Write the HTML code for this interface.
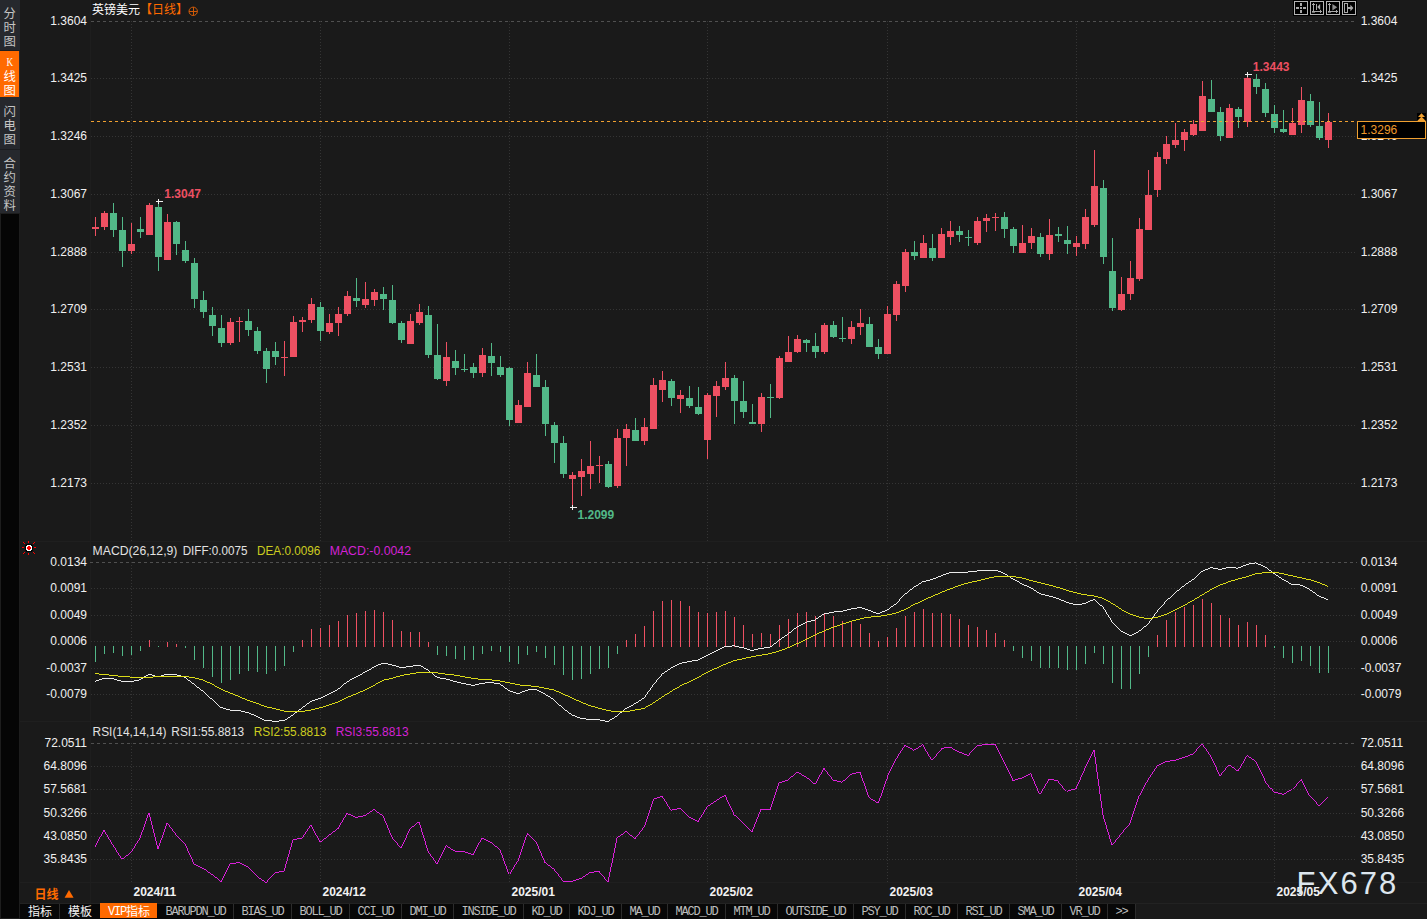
<!DOCTYPE html>
<html><head><meta charset="utf-8"><title>GBPUSD Daily</title>
<style>html,body{margin:0;padding:0;background:#1a1a1a;overflow:hidden}svg{display:block}</style>
</head><body>
<svg width="1427" height="919" viewBox="0 0 1427 919" font-family="Liberation Sans, sans-serif" font-size="12">
<rect x="0" y="0" width="1427" height="919" fill="#1a1a1a"/>
<g shape-rendering="crispEdges">
<rect x="0" y="0" width="20" height="213" fill="#26282d"/>
<rect x="0" y="213" width="20" height="706" fill="#1d1d1d"/>
<rect x="0" y="51" width="19" height="46" fill="#ff6a00"/>
<rect x="1" y="214" width="18" height="704" fill="#050505"/>
<rect x="0" y="50" width="20" height="1" fill="#1c1d20"/>
<rect x="0" y="149" width="20" height="1" fill="#1c1d20"/>
<rect x="20" y="903" width="1407" height="16" fill="#1a1a1a"/>
<rect x="20" y="903" width="1116" height="16" fill="#080808"/>
<rect x="20" y="903" width="1407" height="1" fill="#222"/>
<rect x="100" y="903" width="57" height="15" fill="#ff6a00"/>
<rect x="20" y="541" width="1407" height="1" fill="#1f1f1f"/>
<rect x="20" y="721" width="1407" height="1" fill="#1f1f1f"/>
<rect x="20" y="882" width="1407" height="1" fill="#1f1f1f"/>
<rect x="90" y="0" width="1" height="903" fill="#1e1e1e"/>
<line x1="91" y1="21.5" x2="1357" y2="21.5" stroke="#505050" stroke-dasharray="3 3"/>
<line x1="90" y1="562.5" x2="1357" y2="562.5" stroke="#505050" stroke-dasharray="3 3"/>
<line x1="91" y1="743.5" x2="1357" y2="743.5" stroke="#505050" stroke-dasharray="3 3"/>
<line x1="91" y1="78.5" x2="1357" y2="78.5" stroke="#353535" stroke-dasharray="1 2"/>
<line x1="91" y1="136.5" x2="1357" y2="136.5" stroke="#353535" stroke-dasharray="1 2"/>
<line x1="91" y1="194.5" x2="1357" y2="194.5" stroke="#353535" stroke-dasharray="1 2"/>
<line x1="91" y1="252.5" x2="1357" y2="252.5" stroke="#353535" stroke-dasharray="1 2"/>
<line x1="91" y1="309.5" x2="1357" y2="309.5" stroke="#353535" stroke-dasharray="1 2"/>
<line x1="91" y1="367.5" x2="1357" y2="367.5" stroke="#353535" stroke-dasharray="1 2"/>
<line x1="91" y1="425.5" x2="1357" y2="425.5" stroke="#353535" stroke-dasharray="1 2"/>
<line x1="91" y1="483.5" x2="1357" y2="483.5" stroke="#353535" stroke-dasharray="1 2"/>
<line x1="91" y1="588.5" x2="1357" y2="588.5" stroke="#353535" stroke-dasharray="1 2"/>
<line x1="91" y1="615.5" x2="1357" y2="615.5" stroke="#353535" stroke-dasharray="1 2"/>
<line x1="91" y1="641.5" x2="1357" y2="641.5" stroke="#353535" stroke-dasharray="1 2"/>
<line x1="91" y1="668.5" x2="1357" y2="668.5" stroke="#353535" stroke-dasharray="1 2"/>
<line x1="91" y1="694.5" x2="1357" y2="694.5" stroke="#353535" stroke-dasharray="1 2"/>
<line x1="91" y1="766.5" x2="1357" y2="766.5" stroke="#353535" stroke-dasharray="1 2"/>
<line x1="91" y1="789.5" x2="1357" y2="789.5" stroke="#353535" stroke-dasharray="1 2"/>
<line x1="91" y1="813.5" x2="1357" y2="813.5" stroke="#353535" stroke-dasharray="1 2"/>
<line x1="91" y1="836.5" x2="1357" y2="836.5" stroke="#353535" stroke-dasharray="1 2"/>
<line x1="91" y1="859.5" x2="1357" y2="859.5" stroke="#353535" stroke-dasharray="1 2"/>
<line x1="131.5" y1="21" x2="131.5" y2="541" stroke="#353535" stroke-dasharray="1 2"/>
<line x1="131.5" y1="562" x2="131.5" y2="720" stroke="#353535" stroke-dasharray="1 2"/>
<line x1="131.5" y1="743" x2="131.5" y2="882" stroke="#353535" stroke-dasharray="1 2"/>
<line x1="320.5" y1="21" x2="320.5" y2="541" stroke="#353535" stroke-dasharray="1 2"/>
<line x1="320.5" y1="562" x2="320.5" y2="720" stroke="#353535" stroke-dasharray="1 2"/>
<line x1="320.5" y1="743" x2="320.5" y2="882" stroke="#353535" stroke-dasharray="1 2"/>
<line x1="509.5" y1="21" x2="509.5" y2="541" stroke="#353535" stroke-dasharray="1 2"/>
<line x1="509.5" y1="562" x2="509.5" y2="720" stroke="#353535" stroke-dasharray="1 2"/>
<line x1="509.5" y1="743" x2="509.5" y2="882" stroke="#353535" stroke-dasharray="1 2"/>
<line x1="707.5" y1="21" x2="707.5" y2="541" stroke="#353535" stroke-dasharray="1 2"/>
<line x1="707.5" y1="562" x2="707.5" y2="720" stroke="#353535" stroke-dasharray="1 2"/>
<line x1="707.5" y1="743" x2="707.5" y2="882" stroke="#353535" stroke-dasharray="1 2"/>
<line x1="887.5" y1="21" x2="887.5" y2="541" stroke="#353535" stroke-dasharray="1 2"/>
<line x1="887.5" y1="562" x2="887.5" y2="720" stroke="#353535" stroke-dasharray="1 2"/>
<line x1="887.5" y1="743" x2="887.5" y2="882" stroke="#353535" stroke-dasharray="1 2"/>
<line x1="1076.5" y1="21" x2="1076.5" y2="541" stroke="#353535" stroke-dasharray="1 2"/>
<line x1="1076.5" y1="562" x2="1076.5" y2="720" stroke="#353535" stroke-dasharray="1 2"/>
<line x1="1076.5" y1="743" x2="1076.5" y2="882" stroke="#353535" stroke-dasharray="1 2"/>
<line x1="1274.5" y1="21" x2="1274.5" y2="541" stroke="#353535" stroke-dasharray="1 2"/>
<line x1="1274.5" y1="562" x2="1274.5" y2="720" stroke="#353535" stroke-dasharray="1 2"/>
<line x1="1274.5" y1="743" x2="1274.5" y2="882" stroke="#353535" stroke-dasharray="1 2"/>
<rect x="95" y="217" width="1" height="19" fill="#ee5062"/>
<rect x="92" y="227" width="7" height="2" fill="#ee5062"/>
<rect x="104" y="211" width="1" height="19" fill="#ee5062"/>
<rect x="101" y="213" width="7" height="14" fill="#ee5062"/>
<rect x="113" y="203" width="1" height="34" fill="#52b888"/>
<rect x="110" y="213" width="7" height="17" fill="#52b888"/>
<rect x="122" y="217" width="1" height="50" fill="#52b888"/>
<rect x="119" y="230" width="7" height="21" fill="#52b888"/>
<rect x="131" y="223" width="1" height="31" fill="#ee5062"/>
<rect x="128" y="244" width="7" height="7" fill="#ee5062"/>
<rect x="140" y="217" width="1" height="21" fill="#52b888"/>
<rect x="137" y="229" width="7" height="3" fill="#52b888"/>
<rect x="149" y="203" width="1" height="32" fill="#ee5062"/>
<rect x="146" y="205" width="7" height="30" fill="#ee5062"/>
<rect x="158" y="202" width="1" height="69" fill="#52b888"/>
<rect x="155" y="207" width="7" height="50" fill="#52b888"/>
<rect x="167" y="214" width="1" height="46" fill="#ee5062"/>
<rect x="164" y="222" width="7" height="38" fill="#ee5062"/>
<rect x="176" y="221" width="1" height="34" fill="#52b888"/>
<rect x="173" y="222" width="7" height="22" fill="#52b888"/>
<rect x="185" y="241" width="1" height="22" fill="#52b888"/>
<rect x="182" y="250" width="7" height="11" fill="#52b888"/>
<rect x="194" y="258" width="1" height="50" fill="#52b888"/>
<rect x="191" y="263" width="7" height="36" fill="#52b888"/>
<rect x="203" y="291" width="1" height="27" fill="#52b888"/>
<rect x="200" y="300" width="7" height="12" fill="#52b888"/>
<rect x="212" y="307" width="1" height="29" fill="#52b888"/>
<rect x="209" y="315" width="7" height="11" fill="#52b888"/>
<rect x="221" y="315" width="1" height="32" fill="#52b888"/>
<rect x="218" y="328" width="7" height="15" fill="#52b888"/>
<rect x="230" y="318" width="1" height="27" fill="#ee5062"/>
<rect x="227" y="322" width="7" height="21" fill="#ee5062"/>
<rect x="239" y="317" width="1" height="25" fill="#ee5062"/>
<rect x="236" y="321" width="7" height="1" fill="#ee5062"/>
<rect x="248" y="309" width="1" height="27" fill="#52b888"/>
<rect x="245" y="321" width="7" height="9" fill="#52b888"/>
<rect x="257" y="327" width="1" height="27" fill="#52b888"/>
<rect x="254" y="331" width="7" height="20" fill="#52b888"/>
<rect x="266" y="348" width="1" height="35" fill="#52b888"/>
<rect x="263" y="351" width="7" height="18" fill="#52b888"/>
<rect x="275" y="342" width="1" height="23" fill="#52b888"/>
<rect x="272" y="351" width="7" height="6" fill="#52b888"/>
<rect x="284" y="341" width="1" height="35" fill="#ee5062"/>
<rect x="281" y="357" width="7" height="1" fill="#ee5062"/>
<rect x="293" y="316" width="1" height="41" fill="#ee5062"/>
<rect x="290" y="322" width="7" height="35" fill="#ee5062"/>
<rect x="302" y="317" width="1" height="15" fill="#ee5062"/>
<rect x="299" y="320" width="7" height="2" fill="#ee5062"/>
<rect x="311" y="298" width="1" height="25" fill="#ee5062"/>
<rect x="308" y="304" width="7" height="16" fill="#ee5062"/>
<rect x="320" y="302" width="1" height="39" fill="#52b888"/>
<rect x="317" y="307" width="7" height="24" fill="#52b888"/>
<rect x="329" y="314" width="1" height="20" fill="#ee5062"/>
<rect x="326" y="323" width="7" height="9" fill="#ee5062"/>
<rect x="338" y="307" width="1" height="29" fill="#ee5062"/>
<rect x="335" y="314" width="7" height="9" fill="#ee5062"/>
<rect x="347" y="291" width="1" height="25" fill="#ee5062"/>
<rect x="344" y="296" width="7" height="18" fill="#ee5062"/>
<rect x="356" y="278" width="1" height="29" fill="#52b888"/>
<rect x="353" y="298" width="7" height="3" fill="#52b888"/>
<rect x="365" y="282" width="1" height="26" fill="#ee5062"/>
<rect x="362" y="299" width="7" height="6" fill="#ee5062"/>
<rect x="374" y="289" width="1" height="17" fill="#ee5062"/>
<rect x="371" y="292" width="7" height="8" fill="#ee5062"/>
<rect x="383" y="287" width="1" height="23" fill="#52b888"/>
<rect x="380" y="294" width="7" height="5" fill="#52b888"/>
<rect x="392" y="285" width="1" height="39" fill="#52b888"/>
<rect x="389" y="300" width="7" height="23" fill="#52b888"/>
<rect x="401" y="321" width="1" height="22" fill="#52b888"/>
<rect x="398" y="323" width="7" height="17" fill="#52b888"/>
<rect x="410" y="314" width="1" height="30" fill="#ee5062"/>
<rect x="407" y="321" width="7" height="23" fill="#ee5062"/>
<rect x="419" y="304" width="1" height="21" fill="#ee5062"/>
<rect x="416" y="312" width="7" height="11" fill="#ee5062"/>
<rect x="428" y="306" width="1" height="52" fill="#52b888"/>
<rect x="425" y="315" width="7" height="40" fill="#52b888"/>
<rect x="437" y="324" width="1" height="56" fill="#52b888"/>
<rect x="434" y="355" width="7" height="24" fill="#52b888"/>
<rect x="446" y="342" width="1" height="44" fill="#ee5062"/>
<rect x="443" y="357" width="7" height="24" fill="#ee5062"/>
<rect x="455" y="350" width="1" height="25" fill="#52b888"/>
<rect x="452" y="361" width="7" height="7" fill="#52b888"/>
<rect x="464" y="354" width="1" height="18" fill="#52b888"/>
<rect x="461" y="369" width="7" height="1" fill="#52b888"/>
<rect x="473" y="363" width="1" height="15" fill="#52b888"/>
<rect x="470" y="367" width="7" height="6" fill="#52b888"/>
<rect x="482" y="348" width="1" height="29" fill="#ee5062"/>
<rect x="479" y="355" width="7" height="18" fill="#ee5062"/>
<rect x="491" y="343" width="1" height="33" fill="#52b888"/>
<rect x="488" y="356" width="7" height="7" fill="#52b888"/>
<rect x="500" y="356" width="1" height="21" fill="#52b888"/>
<rect x="497" y="367" width="7" height="8" fill="#52b888"/>
<rect x="509" y="367" width="1" height="59" fill="#52b888"/>
<rect x="506" y="368" width="7" height="52" fill="#52b888"/>
<rect x="518" y="400" width="1" height="23" fill="#ee5062"/>
<rect x="515" y="405" width="7" height="18" fill="#ee5062"/>
<rect x="527" y="362" width="1" height="45" fill="#ee5062"/>
<rect x="524" y="373" width="7" height="34" fill="#ee5062"/>
<rect x="536" y="354" width="1" height="33" fill="#52b888"/>
<rect x="533" y="375" width="7" height="12" fill="#52b888"/>
<rect x="545" y="380" width="1" height="56" fill="#52b888"/>
<rect x="542" y="387" width="7" height="37" fill="#52b888"/>
<rect x="554" y="422" width="1" height="41" fill="#52b888"/>
<rect x="551" y="425" width="7" height="18" fill="#52b888"/>
<rect x="563" y="436" width="1" height="42" fill="#52b888"/>
<rect x="560" y="443" width="7" height="31" fill="#52b888"/>
<rect x="572" y="472" width="1" height="35" fill="#ee5062"/>
<rect x="569" y="475" width="7" height="4" fill="#ee5062"/>
<rect x="581" y="459" width="1" height="37" fill="#ee5062"/>
<rect x="578" y="471" width="7" height="6" fill="#ee5062"/>
<rect x="590" y="441" width="1" height="48" fill="#ee5062"/>
<rect x="587" y="466" width="7" height="8" fill="#ee5062"/>
<rect x="599" y="456" width="1" height="27" fill="#ee5062"/>
<rect x="596" y="465" width="7" height="1" fill="#ee5062"/>
<rect x="608" y="461" width="1" height="27" fill="#52b888"/>
<rect x="605" y="464" width="7" height="23" fill="#52b888"/>
<rect x="617" y="429" width="1" height="59" fill="#ee5062"/>
<rect x="614" y="438" width="7" height="48" fill="#ee5062"/>
<rect x="626" y="424" width="1" height="42" fill="#ee5062"/>
<rect x="623" y="429" width="7" height="9" fill="#ee5062"/>
<rect x="635" y="418" width="1" height="23" fill="#52b888"/>
<rect x="632" y="430" width="7" height="11" fill="#52b888"/>
<rect x="644" y="418" width="1" height="27" fill="#ee5062"/>
<rect x="641" y="427" width="7" height="14" fill="#ee5062"/>
<rect x="653" y="378" width="1" height="51" fill="#ee5062"/>
<rect x="650" y="385" width="7" height="44" fill="#ee5062"/>
<rect x="662" y="371" width="1" height="31" fill="#ee5062"/>
<rect x="659" y="380" width="7" height="10" fill="#ee5062"/>
<rect x="671" y="379" width="1" height="27" fill="#52b888"/>
<rect x="668" y="381" width="7" height="17" fill="#52b888"/>
<rect x="680" y="390" width="1" height="23" fill="#ee5062"/>
<rect x="677" y="395" width="7" height="4" fill="#ee5062"/>
<rect x="689" y="386" width="1" height="22" fill="#52b888"/>
<rect x="686" y="398" width="7" height="8" fill="#52b888"/>
<rect x="698" y="387" width="1" height="28" fill="#52b888"/>
<rect x="695" y="407" width="7" height="7" fill="#52b888"/>
<rect x="707" y="393" width="1" height="66" fill="#ee5062"/>
<rect x="704" y="395" width="7" height="45" fill="#ee5062"/>
<rect x="716" y="381" width="1" height="36" fill="#ee5062"/>
<rect x="713" y="386" width="7" height="10" fill="#ee5062"/>
<rect x="725" y="362" width="1" height="28" fill="#ee5062"/>
<rect x="722" y="378" width="7" height="9" fill="#ee5062"/>
<rect x="734" y="375" width="1" height="49" fill="#52b888"/>
<rect x="731" y="378" width="7" height="23" fill="#52b888"/>
<rect x="743" y="381" width="1" height="37" fill="#52b888"/>
<rect x="740" y="401" width="7" height="11" fill="#52b888"/>
<rect x="752" y="404" width="1" height="20" fill="#52b888"/>
<rect x="749" y="422" width="7" height="2" fill="#52b888"/>
<rect x="761" y="393" width="1" height="39" fill="#ee5062"/>
<rect x="758" y="397" width="7" height="27" fill="#ee5062"/>
<rect x="770" y="384" width="1" height="34" fill="#52b888"/>
<rect x="767" y="397" width="7" height="1" fill="#52b888"/>
<rect x="779" y="356" width="1" height="43" fill="#ee5062"/>
<rect x="776" y="358" width="7" height="40" fill="#ee5062"/>
<rect x="788" y="336" width="1" height="26" fill="#ee5062"/>
<rect x="785" y="352" width="7" height="10" fill="#ee5062"/>
<rect x="797" y="335" width="1" height="18" fill="#ee5062"/>
<rect x="794" y="339" width="7" height="13" fill="#ee5062"/>
<rect x="806" y="339" width="1" height="13" fill="#52b888"/>
<rect x="803" y="340" width="7" height="3" fill="#52b888"/>
<rect x="815" y="333" width="1" height="25" fill="#52b888"/>
<rect x="812" y="346" width="7" height="6" fill="#52b888"/>
<rect x="824" y="323" width="1" height="31" fill="#ee5062"/>
<rect x="821" y="325" width="7" height="27" fill="#ee5062"/>
<rect x="833" y="321" width="1" height="17" fill="#52b888"/>
<rect x="830" y="325" width="7" height="12" fill="#52b888"/>
<rect x="842" y="317" width="1" height="25" fill="#52b888"/>
<rect x="839" y="338" width="7" height="1" fill="#52b888"/>
<rect x="851" y="321" width="1" height="23" fill="#ee5062"/>
<rect x="848" y="327" width="7" height="12" fill="#ee5062"/>
<rect x="860" y="309" width="1" height="26" fill="#ee5062"/>
<rect x="857" y="323" width="7" height="4" fill="#ee5062"/>
<rect x="869" y="317" width="1" height="30" fill="#52b888"/>
<rect x="866" y="324" width="7" height="23" fill="#52b888"/>
<rect x="878" y="339" width="1" height="20" fill="#52b888"/>
<rect x="875" y="347" width="7" height="7" fill="#52b888"/>
<rect x="887" y="306" width="1" height="48" fill="#ee5062"/>
<rect x="884" y="314" width="7" height="40" fill="#ee5062"/>
<rect x="896" y="281" width="1" height="40" fill="#ee5062"/>
<rect x="893" y="284" width="7" height="31" fill="#ee5062"/>
<rect x="905" y="249" width="1" height="43" fill="#ee5062"/>
<rect x="902" y="252" width="7" height="34" fill="#ee5062"/>
<rect x="914" y="241" width="1" height="19" fill="#52b888"/>
<rect x="911" y="252" width="7" height="4" fill="#52b888"/>
<rect x="923" y="235" width="1" height="23" fill="#ee5062"/>
<rect x="920" y="243" width="7" height="15" fill="#ee5062"/>
<rect x="932" y="234" width="1" height="27" fill="#52b888"/>
<rect x="929" y="248" width="7" height="10" fill="#52b888"/>
<rect x="941" y="228" width="1" height="30" fill="#ee5062"/>
<rect x="938" y="234" width="7" height="24" fill="#ee5062"/>
<rect x="950" y="221" width="1" height="24" fill="#ee5062"/>
<rect x="947" y="231" width="7" height="6" fill="#ee5062"/>
<rect x="959" y="226" width="1" height="16" fill="#52b888"/>
<rect x="956" y="231" width="7" height="4" fill="#52b888"/>
<rect x="968" y="230" width="1" height="16" fill="#52b888"/>
<rect x="965" y="237" width="7" height="1" fill="#52b888"/>
<rect x="977" y="217" width="1" height="28" fill="#ee5062"/>
<rect x="974" y="221" width="7" height="22" fill="#ee5062"/>
<rect x="986" y="214" width="1" height="18" fill="#ee5062"/>
<rect x="983" y="218" width="7" height="3" fill="#ee5062"/>
<rect x="995" y="213" width="1" height="18" fill="#ee5062"/>
<rect x="992" y="217" width="7" height="1" fill="#ee5062"/>
<rect x="1004" y="212" width="1" height="26" fill="#52b888"/>
<rect x="1001" y="217" width="7" height="12" fill="#52b888"/>
<rect x="1013" y="227" width="1" height="26" fill="#52b888"/>
<rect x="1010" y="229" width="7" height="17" fill="#52b888"/>
<rect x="1022" y="225" width="1" height="28" fill="#ee5062"/>
<rect x="1019" y="243" width="7" height="10" fill="#ee5062"/>
<rect x="1031" y="228" width="1" height="21" fill="#ee5062"/>
<rect x="1028" y="236" width="7" height="7" fill="#ee5062"/>
<rect x="1040" y="233" width="1" height="24" fill="#52b888"/>
<rect x="1037" y="237" width="7" height="17" fill="#52b888"/>
<rect x="1049" y="219" width="1" height="41" fill="#ee5062"/>
<rect x="1046" y="235" width="7" height="19" fill="#ee5062"/>
<rect x="1058" y="227" width="1" height="15" fill="#52b888"/>
<rect x="1055" y="234" width="7" height="2" fill="#52b888"/>
<rect x="1067" y="226" width="1" height="28" fill="#52b888"/>
<rect x="1064" y="240" width="7" height="4" fill="#52b888"/>
<rect x="1076" y="236" width="1" height="20" fill="#ee5062"/>
<rect x="1073" y="243" width="7" height="4" fill="#ee5062"/>
<rect x="1085" y="209" width="1" height="40" fill="#ee5062"/>
<rect x="1082" y="217" width="7" height="27" fill="#ee5062"/>
<rect x="1094" y="150" width="1" height="77" fill="#ee5062"/>
<rect x="1091" y="186" width="7" height="39" fill="#ee5062"/>
<rect x="1103" y="180" width="1" height="84" fill="#52b888"/>
<rect x="1100" y="188" width="7" height="69" fill="#52b888"/>
<rect x="1112" y="238" width="1" height="73" fill="#52b888"/>
<rect x="1109" y="271" width="7" height="37" fill="#52b888"/>
<rect x="1121" y="277" width="1" height="34" fill="#ee5062"/>
<rect x="1118" y="294" width="7" height="16" fill="#ee5062"/>
<rect x="1130" y="261" width="1" height="39" fill="#ee5062"/>
<rect x="1127" y="278" width="7" height="16" fill="#ee5062"/>
<rect x="1139" y="218" width="1" height="63" fill="#ee5062"/>
<rect x="1136" y="229" width="7" height="50" fill="#ee5062"/>
<rect x="1148" y="170" width="1" height="60" fill="#ee5062"/>
<rect x="1145" y="195" width="7" height="35" fill="#ee5062"/>
<rect x="1157" y="152" width="1" height="45" fill="#ee5062"/>
<rect x="1154" y="157" width="7" height="33" fill="#ee5062"/>
<rect x="1166" y="136" width="1" height="28" fill="#ee5062"/>
<rect x="1163" y="144" width="7" height="15" fill="#ee5062"/>
<rect x="1175" y="123" width="1" height="25" fill="#ee5062"/>
<rect x="1172" y="140" width="7" height="5" fill="#ee5062"/>
<rect x="1184" y="129" width="1" height="22" fill="#ee5062"/>
<rect x="1181" y="132" width="7" height="8" fill="#ee5062"/>
<rect x="1193" y="120" width="1" height="16" fill="#ee5062"/>
<rect x="1190" y="124" width="7" height="11" fill="#ee5062"/>
<rect x="1202" y="81" width="1" height="50" fill="#ee5062"/>
<rect x="1199" y="96" width="7" height="35" fill="#ee5062"/>
<rect x="1211" y="80" width="1" height="32" fill="#52b888"/>
<rect x="1208" y="99" width="7" height="13" fill="#52b888"/>
<rect x="1220" y="107" width="1" height="34" fill="#52b888"/>
<rect x="1217" y="112" width="7" height="24" fill="#52b888"/>
<rect x="1229" y="104" width="1" height="34" fill="#ee5062"/>
<rect x="1226" y="108" width="7" height="30" fill="#ee5062"/>
<rect x="1238" y="107" width="1" height="21" fill="#52b888"/>
<rect x="1235" y="109" width="7" height="8" fill="#52b888"/>
<rect x="1247" y="75" width="1" height="52" fill="#ee5062"/>
<rect x="1244" y="78" width="7" height="44" fill="#ee5062"/>
<rect x="1256" y="74" width="1" height="20" fill="#52b888"/>
<rect x="1253" y="79" width="7" height="8" fill="#52b888"/>
<rect x="1265" y="83" width="1" height="34" fill="#52b888"/>
<rect x="1262" y="89" width="7" height="24" fill="#52b888"/>
<rect x="1274" y="105" width="1" height="28" fill="#52b888"/>
<rect x="1271" y="114" width="7" height="14" fill="#52b888"/>
<rect x="1283" y="110" width="1" height="23" fill="#52b888"/>
<rect x="1280" y="129" width="7" height="3" fill="#52b888"/>
<rect x="1292" y="108" width="1" height="27" fill="#ee5062"/>
<rect x="1289" y="123" width="7" height="12" fill="#ee5062"/>
<rect x="1301" y="87" width="1" height="46" fill="#ee5062"/>
<rect x="1298" y="100" width="7" height="25" fill="#ee5062"/>
<rect x="1310" y="94" width="1" height="33" fill="#52b888"/>
<rect x="1307" y="101" width="7" height="24" fill="#52b888"/>
<rect x="1319" y="102" width="1" height="38" fill="#52b888"/>
<rect x="1316" y="126" width="7" height="12" fill="#52b888"/>
<rect x="1328" y="113" width="1" height="35" fill="#ee5062"/>
<rect x="1325" y="122" width="7" height="18" fill="#ee5062"/>
<line x1="91" y1="121.5" x2="1357" y2="121.5" stroke="#f0a030" stroke-dasharray="3 3"/>
<rect x="156" y="201" width="7" height="1" fill="#f0f0f0"/>
<rect x="158" y="199" width="1" height="5" fill="#f0f0f0"/>
<rect x="570" y="507" width="7" height="1" fill="#f0f0f0"/>
<rect x="572" y="505" width="1" height="5" fill="#f0f0f0"/>
<rect x="1245" y="74" width="7" height="1" fill="#f0f0f0"/>
<rect x="1247" y="72" width="1" height="5" fill="#f0f0f0"/>
<rect x="95" y="646" width="1" height="16" fill="#52b888"/>
<rect x="104" y="646" width="1" height="8" fill="#52b888"/>
<rect x="113" y="646" width="1" height="7" fill="#52b888"/>
<rect x="122" y="646" width="1" height="10" fill="#52b888"/>
<rect x="131" y="646" width="1" height="9" fill="#52b888"/>
<rect x="140" y="646" width="1" height="5" fill="#52b888"/>
<rect x="149" y="640" width="1" height="7" fill="#ee5062"/>
<rect x="158" y="646" width="1" height="1" fill="#52b888"/>
<rect x="167" y="642" width="1" height="5" fill="#ee5062"/>
<rect x="176" y="644" width="1" height="3" fill="#ee5062"/>
<rect x="185" y="646" width="1" height="2" fill="#52b888"/>
<rect x="194" y="646" width="1" height="14" fill="#52b888"/>
<rect x="203" y="646" width="1" height="22" fill="#52b888"/>
<rect x="212" y="646" width="1" height="31" fill="#52b888"/>
<rect x="221" y="646" width="1" height="37" fill="#52b888"/>
<rect x="230" y="646" width="1" height="34" fill="#52b888"/>
<rect x="239" y="646" width="1" height="28" fill="#52b888"/>
<rect x="248" y="646" width="1" height="25" fill="#52b888"/>
<rect x="257" y="646" width="1" height="26" fill="#52b888"/>
<rect x="266" y="646" width="1" height="28" fill="#52b888"/>
<rect x="275" y="646" width="1" height="25" fill="#52b888"/>
<rect x="284" y="646" width="1" height="20" fill="#52b888"/>
<rect x="293" y="646" width="1" height="6" fill="#52b888"/>
<rect x="302" y="640" width="1" height="7" fill="#ee5062"/>
<rect x="311" y="629" width="1" height="18" fill="#ee5062"/>
<rect x="320" y="628" width="1" height="19" fill="#ee5062"/>
<rect x="329" y="625" width="1" height="22" fill="#ee5062"/>
<rect x="338" y="621" width="1" height="26" fill="#ee5062"/>
<rect x="347" y="615" width="1" height="32" fill="#ee5062"/>
<rect x="356" y="613" width="1" height="34" fill="#ee5062"/>
<rect x="365" y="611" width="1" height="36" fill="#ee5062"/>
<rect x="374" y="610" width="1" height="37" fill="#ee5062"/>
<rect x="383" y="612" width="1" height="35" fill="#ee5062"/>
<rect x="392" y="620" width="1" height="27" fill="#ee5062"/>
<rect x="401" y="631" width="1" height="16" fill="#ee5062"/>
<rect x="410" y="632" width="1" height="15" fill="#ee5062"/>
<rect x="419" y="632" width="1" height="15" fill="#ee5062"/>
<rect x="428" y="642" width="1" height="5" fill="#ee5062"/>
<rect x="437" y="646" width="1" height="9" fill="#52b888"/>
<rect x="446" y="646" width="1" height="10" fill="#52b888"/>
<rect x="455" y="646" width="1" height="13" fill="#52b888"/>
<rect x="464" y="646" width="1" height="14" fill="#52b888"/>
<rect x="473" y="646" width="1" height="14" fill="#52b888"/>
<rect x="482" y="646" width="1" height="8" fill="#52b888"/>
<rect x="491" y="646" width="1" height="5" fill="#52b888"/>
<rect x="500" y="646" width="1" height="6" fill="#52b888"/>
<rect x="509" y="646" width="1" height="16" fill="#52b888"/>
<rect x="518" y="646" width="1" height="18" fill="#52b888"/>
<rect x="527" y="646" width="1" height="9" fill="#52b888"/>
<rect x="536" y="646" width="1" height="6" fill="#52b888"/>
<rect x="545" y="646" width="1" height="12" fill="#52b888"/>
<rect x="554" y="646" width="1" height="19" fill="#52b888"/>
<rect x="563" y="646" width="1" height="29" fill="#52b888"/>
<rect x="572" y="646" width="1" height="34" fill="#52b888"/>
<rect x="581" y="646" width="1" height="33" fill="#52b888"/>
<rect x="590" y="646" width="1" height="28" fill="#52b888"/>
<rect x="599" y="646" width="1" height="23" fill="#52b888"/>
<rect x="608" y="646" width="1" height="22" fill="#52b888"/>
<rect x="617" y="646" width="1" height="8" fill="#52b888"/>
<rect x="626" y="640" width="1" height="7" fill="#ee5062"/>
<rect x="635" y="634" width="1" height="13" fill="#ee5062"/>
<rect x="644" y="626" width="1" height="21" fill="#ee5062"/>
<rect x="653" y="611" width="1" height="36" fill="#ee5062"/>
<rect x="662" y="601" width="1" height="46" fill="#ee5062"/>
<rect x="671" y="600" width="1" height="47" fill="#ee5062"/>
<rect x="680" y="601" width="1" height="46" fill="#ee5062"/>
<rect x="689" y="606" width="1" height="41" fill="#ee5062"/>
<rect x="698" y="612" width="1" height="35" fill="#ee5062"/>
<rect x="707" y="613" width="1" height="34" fill="#ee5062"/>
<rect x="716" y="612" width="1" height="35" fill="#ee5062"/>
<rect x="725" y="611" width="1" height="36" fill="#ee5062"/>
<rect x="734" y="617" width="1" height="30" fill="#ee5062"/>
<rect x="743" y="625" width="1" height="22" fill="#ee5062"/>
<rect x="752" y="634" width="1" height="13" fill="#ee5062"/>
<rect x="761" y="633" width="1" height="14" fill="#ee5062"/>
<rect x="770" y="634" width="1" height="13" fill="#ee5062"/>
<rect x="779" y="625" width="1" height="22" fill="#ee5062"/>
<rect x="788" y="619" width="1" height="28" fill="#ee5062"/>
<rect x="797" y="613" width="1" height="34" fill="#ee5062"/>
<rect x="806" y="612" width="1" height="35" fill="#ee5062"/>
<rect x="815" y="616" width="1" height="31" fill="#ee5062"/>
<rect x="824" y="613" width="1" height="34" fill="#ee5062"/>
<rect x="833" y="616" width="1" height="31" fill="#ee5062"/>
<rect x="842" y="621" width="1" height="26" fill="#ee5062"/>
<rect x="851" y="622" width="1" height="25" fill="#ee5062"/>
<rect x="860" y="624" width="1" height="23" fill="#ee5062"/>
<rect x="869" y="633" width="1" height="14" fill="#ee5062"/>
<rect x="878" y="641" width="1" height="6" fill="#ee5062"/>
<rect x="887" y="637" width="1" height="10" fill="#ee5062"/>
<rect x="896" y="628" width="1" height="19" fill="#ee5062"/>
<rect x="905" y="616" width="1" height="31" fill="#ee5062"/>
<rect x="914" y="612" width="1" height="35" fill="#ee5062"/>
<rect x="923" y="609" width="1" height="38" fill="#ee5062"/>
<rect x="932" y="613" width="1" height="34" fill="#ee5062"/>
<rect x="941" y="613" width="1" height="34" fill="#ee5062"/>
<rect x="950" y="614" width="1" height="33" fill="#ee5062"/>
<rect x="959" y="619" width="1" height="28" fill="#ee5062"/>
<rect x="968" y="625" width="1" height="22" fill="#ee5062"/>
<rect x="977" y="627" width="1" height="20" fill="#ee5062"/>
<rect x="986" y="630" width="1" height="17" fill="#ee5062"/>
<rect x="995" y="633" width="1" height="14" fill="#ee5062"/>
<rect x="1004" y="640" width="1" height="7" fill="#ee5062"/>
<rect x="1013" y="646" width="1" height="5" fill="#52b888"/>
<rect x="1022" y="646" width="1" height="12" fill="#52b888"/>
<rect x="1031" y="646" width="1" height="15" fill="#52b888"/>
<rect x="1040" y="646" width="1" height="22" fill="#52b888"/>
<rect x="1049" y="646" width="1" height="22" fill="#52b888"/>
<rect x="1058" y="646" width="1" height="22" fill="#52b888"/>
<rect x="1067" y="646" width="1" height="24" fill="#52b888"/>
<rect x="1076" y="646" width="1" height="24" fill="#52b888"/>
<rect x="1085" y="646" width="1" height="18" fill="#52b888"/>
<rect x="1094" y="646" width="1" height="7" fill="#52b888"/>
<rect x="1103" y="646" width="1" height="18" fill="#52b888"/>
<rect x="1112" y="646" width="1" height="37" fill="#52b888"/>
<rect x="1121" y="646" width="1" height="43" fill="#52b888"/>
<rect x="1130" y="646" width="1" height="43" fill="#52b888"/>
<rect x="1139" y="646" width="1" height="28" fill="#52b888"/>
<rect x="1148" y="646" width="1" height="11" fill="#52b888"/>
<rect x="1157" y="635" width="1" height="12" fill="#ee5062"/>
<rect x="1166" y="620" width="1" height="27" fill="#ee5062"/>
<rect x="1175" y="612" width="1" height="35" fill="#ee5062"/>
<rect x="1184" y="607" width="1" height="40" fill="#ee5062"/>
<rect x="1193" y="605" width="1" height="42" fill="#ee5062"/>
<rect x="1202" y="599" width="1" height="48" fill="#ee5062"/>
<rect x="1211" y="603" width="1" height="44" fill="#ee5062"/>
<rect x="1220" y="615" width="1" height="32" fill="#ee5062"/>
<rect x="1229" y="618" width="1" height="29" fill="#ee5062"/>
<rect x="1238" y="625" width="1" height="22" fill="#ee5062"/>
<rect x="1247" y="622" width="1" height="25" fill="#ee5062"/>
<rect x="1256" y="625" width="1" height="22" fill="#ee5062"/>
<rect x="1265" y="635" width="1" height="12" fill="#ee5062"/>
<rect x="1274" y="646" width="1" height="2" fill="#52b888"/>
<rect x="1283" y="646" width="1" height="12" fill="#52b888"/>
<rect x="1292" y="646" width="1" height="17" fill="#52b888"/>
<rect x="1301" y="646" width="1" height="15" fill="#52b888"/>
<rect x="1310" y="646" width="1" height="20" fill="#52b888"/>
<rect x="1319" y="646" width="1" height="27" fill="#52b888"/>
<rect x="1328" y="646" width="1" height="27" fill="#52b888"/>
</g>
<polyline fill="none" stroke="#ededed" stroke-width="0.99" shape-rendering="crispEdges" points="95.0,681.3 104.0,678.4 113.0,678.8 122.0,681.3 131.0,681.6 140.0,679.8 149.0,674.1 158.0,677.1 167.0,674.1 176.0,674.6 185.0,677.3 194.0,684.4 203.0,691.3 212.0,699.4 221.0,707.5 230.0,710.0 239.0,710.5 248.0,712.7 257.0,716.4 266.0,720.8 275.0,721.1 284.0,720.9 293.0,714.7 302.0,708.1 311.0,701.2 320.0,698.5 329.0,694.1 338.0,689.4 347.0,681.8 356.0,677.1 365.0,672.1 374.0,667.1 383.0,662.9 392.0,664.9 401.0,667.6 410.0,666.6 419.0,665.0 428.0,670.1 437.0,677.4 446.0,679.1 455.0,681.4 464.0,683.7 473.0,685.5 482.0,683.3 491.0,682.4 500.0,684.1 509.0,690.6 518.0,693.7 527.0,690.1 536.0,689.3 545.0,694.1 554.0,699.7 563.0,708.4 572.0,715.0 581.0,718.5 590.0,719.4 599.0,719.8 608.0,721.5 617.0,715.8 626.0,708.5 635.0,703.7 644.0,698.0 653.0,685.4 662.0,674.3 671.0,668.1 680.0,663.4 689.0,661.5 698.0,660.1 707.0,655.7 716.0,651.0 725.0,646.5 734.0,645.9 743.0,647.8 752.0,650.5 761.0,648.3 770.0,647.3 779.0,640.3 788.0,634.0 797.0,626.9 806.0,622.4 815.0,619.9 824.0,614.0 833.0,612.1 842.0,611.4 851.0,609.0 860.0,607.5 869.0,610.3 878.0,613.8 887.0,610.2 896.0,603.7 905.0,594.2 914.0,587.3 923.0,581.7 932.0,579.6 941.0,575.8 950.0,572.7 959.0,572.0 968.0,572.0 977.0,571.0 986.0,570.3 995.0,570.1 1004.0,573.2 1013.0,579.0 1022.0,583.9 1031.0,587.9 1040.0,593.7 1049.0,596.0 1058.0,598.5 1067.0,602.4 1076.0,604.9 1085.0,603.6 1094.0,599.3 1103.0,607.3 1112.0,621.6 1121.0,631.0 1130.0,635.8 1139.0,631.3 1148.0,624.2 1157.0,611.6 1166.0,601.2 1175.0,593.0 1184.0,585.7 1193.0,579.5 1202.0,571.3 1211.0,567.6 1220.0,569.4 1229.0,567.3 1238.0,568.2 1247.0,564.4 1256.0,562.9 1265.0,566.9 1274.0,573.4 1283.0,579.6 1292.0,584.4 1301.0,585.1 1310.0,589.7 1319.0,596.1 1328.0,599.7"/>
<polyline fill="none" stroke="#dede18" stroke-width="0.99" shape-rendering="crispEdges" points="95.0,673.5 104.0,674.6 113.0,675.4 122.0,676.5 131.0,677.1 140.0,677.4 149.0,677.4 158.0,676.6 167.0,676.7 176.0,676.2 185.0,676.5 194.0,677.6 203.0,680.1 212.0,684.0 221.0,689.2 230.0,693.0 239.0,696.6 248.0,700.4 257.0,703.4 266.0,706.9 275.0,708.7 284.0,711.1 293.0,711.8 302.0,711.4 311.0,710.0 320.0,707.8 329.0,705.0 338.0,702.2 347.0,697.6 356.0,693.9 365.0,689.9 374.0,685.4 383.0,680.3 392.0,678.3 401.0,675.6 410.0,674.0 419.0,672.4 428.0,672.4 437.0,672.9 446.0,674.1 455.0,675.1 464.0,676.9 473.0,678.4 482.0,679.4 491.0,679.9 500.0,681.0 509.0,682.7 518.0,684.8 527.0,685.7 536.0,686.4 545.0,688.2 554.0,690.0 563.0,693.9 572.0,698.0 581.0,702.1 590.0,705.6 599.0,708.4 608.0,710.5 617.0,711.8 626.0,711.8 635.0,710.0 644.0,708.4 653.0,703.3 662.0,697.2 671.0,691.4 680.0,686.2 689.0,681.8 698.0,677.4 707.0,672.5 716.0,668.3 725.0,664.3 734.0,660.8 743.0,658.7 752.0,656.8 761.0,655.2 770.0,653.6 779.0,651.2 788.0,647.7 797.0,643.7 806.0,639.6 815.0,635.2 824.0,630.8 833.0,627.4 842.0,624.1 851.0,621.4 860.0,618.9 869.0,617.1 878.0,616.6 887.0,615.0 896.0,613.0 905.0,609.6 914.0,604.6 923.0,600.5 932.0,596.4 941.0,592.6 950.0,589.0 959.0,585.7 968.0,582.9 977.0,580.9 986.0,578.7 995.0,576.9 1004.0,576.5 1013.0,576.5 1022.0,578.0 1031.0,580.5 1040.0,582.7 1049.0,585.0 1058.0,587.5 1067.0,590.4 1076.0,592.9 1085.0,594.8 1094.0,595.9 1103.0,598.4 1112.0,603.3 1121.0,609.3 1130.0,614.1 1139.0,617.0 1148.0,618.9 1157.0,617.4 1166.0,614.4 1175.0,610.2 1184.0,605.5 1193.0,600.3 1202.0,595.1 1211.0,589.5 1220.0,585.2 1229.0,581.7 1238.0,579.1 1247.0,576.8 1256.0,573.8 1265.0,572.7 1274.0,572.2 1283.0,573.7 1292.0,575.9 1301.0,577.8 1310.0,579.8 1319.0,582.8 1328.0,586.3"/>
<polyline fill="none" stroke="#de20de" stroke-width="0.99" shape-rendering="crispEdges" points="95.0,846.6 104.0,830.2 113.0,845.4 122.0,859.3 131.0,852.4 140.0,838.1 149.0,812.6 158.0,849.4 167.0,822.7 176.0,834.8 185.0,844.1 194.0,863.8 203.0,868.3 212.0,874.4 221.0,881.5 230.0,863.8 239.0,862.5 248.0,866.8 257.0,876.4 266.0,882.7 275.0,872.6 284.0,871.4 293.0,839.8 302.0,838.1 311.0,824.7 320.0,842.4 329.0,835.3 338.0,828.5 347.0,813.3 356.0,817.6 365.0,815.4 374.0,809.6 383.0,815.9 392.0,837.3 401.0,848.2 410.0,829.0 419.0,821.7 428.0,851.2 437.0,864.3 446.0,845.6 455.0,851.2 464.0,851.7 473.0,854.5 482.0,837.8 491.0,842.4 500.0,849.9 509.0,874.4 518.0,859.5 527.0,833.5 536.0,841.8 545.0,862.5 554.0,869.3 563.0,881.0 572.0,881.5 581.0,878.4 590.0,872.6 599.0,871.4 608.0,882.2 617.0,838.1 626.0,831.5 635.0,838.6 644.0,827.2 653.0,799.5 662.0,796.2 671.0,810.3 680.0,808.3 689.0,817.1 698.0,821.7 707.0,807.0 716.0,800.7 725.0,795.2 734.0,814.6 743.0,822.7 752.0,831.5 761.0,809.0 770.0,810.0 779.0,783.0 788.0,780.0 797.0,772.2 806.0,776.8 815.0,784.3 824.0,768.4 833.0,780.0 842.0,782.3 851.0,774.2 860.0,772.2 869.0,797.4 878.0,803.2 887.0,777.5 896.0,759.1 905.0,745.2 914.0,750.3 923.0,744.5 932.0,759.6 941.0,748.5 950.0,747.2 959.0,752.0 968.0,755.6 977.0,746.0 986.0,744.2 995.0,744.2 1004.0,762.1 1013.0,780.5 1022.0,778.0 1031.0,773.5 1040.0,794.4 1049.0,779.3 1058.0,780.5 1067.0,791.4 1076.0,788.6 1085.0,768.4 1094.0,749.8 1103.0,815.4 1112.0,845.4 1121.0,834.0 1130.0,823.4 1139.0,796.4 1148.0,779.8 1157.0,766.2 1166.0,761.6 1175.0,760.4 1184.0,757.3 1193.0,754.0 1202.0,743.8 1211.0,756.6 1220.0,776.0 1229.0,764.7 1238.0,771.2 1247.0,755.6 1256.0,761.6 1265.0,780.5 1274.0,791.9 1283.0,794.4 1292.0,789.4 1301.0,778.5 1310.0,795.7 1319.0,805.8 1328.0,797.4"/>
<text x="87" y="25" fill="#f0f0f0" text-anchor="end">1.3604</text>
<text x="1360.7" y="25" fill="#f0f0f0">1.3604</text>
<text x="87" y="82" fill="#f0f0f0" text-anchor="end">1.3425</text>
<text x="1360.7" y="82" fill="#f0f0f0">1.3425</text>
<text x="87" y="140" fill="#f0f0f0" text-anchor="end">1.3246</text>
<text x="1360.7" y="140" fill="#f0f0f0">1.3246</text>
<text x="87" y="198" fill="#f0f0f0" text-anchor="end">1.3067</text>
<text x="1360.7" y="198" fill="#f0f0f0">1.3067</text>
<text x="87" y="256" fill="#f0f0f0" text-anchor="end">1.2888</text>
<text x="1360.7" y="256" fill="#f0f0f0">1.2888</text>
<text x="87" y="313" fill="#f0f0f0" text-anchor="end">1.2709</text>
<text x="1360.7" y="313" fill="#f0f0f0">1.2709</text>
<text x="87" y="371" fill="#f0f0f0" text-anchor="end">1.2531</text>
<text x="1360.7" y="371" fill="#f0f0f0">1.2531</text>
<text x="87" y="429" fill="#f0f0f0" text-anchor="end">1.2352</text>
<text x="1360.7" y="429" fill="#f0f0f0">1.2352</text>
<text x="87" y="487" fill="#f0f0f0" text-anchor="end">1.2173</text>
<text x="1360.7" y="487" fill="#f0f0f0">1.2173</text>
<text x="87" y="566" fill="#f0f0f0" text-anchor="end">0.0134</text>
<text x="1360.7" y="566" fill="#f0f0f0">0.0134</text>
<text x="87" y="592" fill="#f0f0f0" text-anchor="end">0.0091</text>
<text x="1360.7" y="592" fill="#f0f0f0">0.0091</text>
<text x="87" y="619" fill="#f0f0f0" text-anchor="end">0.0049</text>
<text x="1360.7" y="619" fill="#f0f0f0">0.0049</text>
<text x="87" y="645" fill="#f0f0f0" text-anchor="end">0.0006</text>
<text x="1360.7" y="645" fill="#f0f0f0">0.0006</text>
<text x="87" y="672" fill="#f0f0f0" text-anchor="end">-0.0037</text>
<text x="1360.7" y="672" fill="#f0f0f0">-0.0037</text>
<text x="87" y="698" fill="#f0f0f0" text-anchor="end">-0.0079</text>
<text x="1360.7" y="698" fill="#f0f0f0">-0.0079</text>
<text x="87" y="747" fill="#f0f0f0" text-anchor="end">72.0511</text>
<text x="1360.7" y="747" fill="#f0f0f0">72.0511</text>
<text x="87" y="770" fill="#f0f0f0" text-anchor="end">64.8096</text>
<text x="1360.7" y="770" fill="#f0f0f0">64.8096</text>
<text x="87" y="793" fill="#f0f0f0" text-anchor="end">57.5681</text>
<text x="1360.7" y="793" fill="#f0f0f0">57.5681</text>
<text x="87" y="817" fill="#f0f0f0" text-anchor="end">50.3266</text>
<text x="1360.7" y="817" fill="#f0f0f0">50.3266</text>
<text x="87" y="840" fill="#f0f0f0" text-anchor="end">43.0850</text>
<text x="1360.7" y="840" fill="#f0f0f0">43.0850</text>
<text x="87" y="863" fill="#f0f0f0" text-anchor="end">35.8435</text>
<text x="1360.7" y="863" fill="#f0f0f0">35.8435</text>
<g shape-rendering="crispEdges">
<rect x="1357" y="121" width="69" height="18" fill="#000" stroke="none"/>
<rect x="1357.5" y="121.5" width="68" height="17" fill="#000" stroke="#f0a030"/>
<rect x="1417" y="113" width="9" height="8" fill="#000"/>
</g>
<path d="M1421.5 113.2 L1425 117 L1418 117 Z M1421.5 116.6 L1425.8 121 L1417.2 121 Z" fill="#f0a030"/>
<text x="1360.6" y="134" fill="#ee9a2c">1.3296</text>
<text x="164.3" y="198" fill="#ee5062" font-weight="bold">1.3047</text>
<text x="577.5" y="519" fill="#52b888" font-weight="bold">1.2099</text>
<text x="1252.8" y="71" fill="#ee5062" font-weight="bold">1.3443</text>
<text x="92.6" y="555" fill="#e2e2e2" textLength="84.8" lengthAdjust="spacingAndGlyphs">MACD(26,12,9)</text>
<text x="182.7" y="555" fill="#e2e2e2" textLength="64.8" lengthAdjust="spacingAndGlyphs">DIFF:0.0075</text>
<text x="257" y="555" fill="#cccc20" textLength="63.4" lengthAdjust="spacingAndGlyphs">DEA:0.0096</text>
<text x="329.7" y="555" fill="#d422d4" textLength="81.3" lengthAdjust="spacingAndGlyphs">MACD:-0.0042</text>
<text x="92.6" y="736" fill="#e2e2e2" textLength="73.9" lengthAdjust="spacingAndGlyphs">RSI(14,14,14)</text>
<text x="171.3" y="736" fill="#e2e2e2" textLength="72.9" lengthAdjust="spacingAndGlyphs">RSI1:55.8813</text>
<text x="253.7" y="736" fill="#cccc20" textLength="72.7" lengthAdjust="spacingAndGlyphs">RSI2:55.8813</text>
<text x="335.7" y="736" fill="#d422d4" textLength="72.9" lengthAdjust="spacingAndGlyphs">RSI3:55.8813</text>
<g shape-rendering="crispEdges">
<rect x="26" y="544" width="6" height="8" fill="#000"/>
<rect x="25" y="545" width="8" height="6" fill="#000"/>
<rect x="27" y="545" width="4" height="6" fill="#fff"/>
<rect x="26" y="546" width="6" height="4" fill="#fff"/>
<rect x="28" y="546" width="2" height="4" fill="#ff0000"/>
<rect x="27" y="547" width="4" height="2" fill="#ff0000"/>
<rect x="28" y="541" width="1" height="2" fill="#ff0000"/>
<rect x="28" y="553" width="1" height="2" fill="#ff0000"/>
<rect x="22" y="547" width="2" height="1" fill="#ff0000"/>
<rect x="34" y="547" width="2" height="1" fill="#ff0000"/>
<rect x="23" y="542" width="1" height="1" fill="#ff0000"/>
<rect x="24" y="543" width="1" height="1" fill="#ff0000"/>
<rect x="34" y="542" width="1" height="1" fill="#ff0000"/>
<rect x="33" y="543" width="1" height="1" fill="#ff0000"/>
<rect x="24" y="552" width="1" height="1" fill="#ff0000"/>
<rect x="23" y="553" width="1" height="1" fill="#ff0000"/>
<rect x="33" y="552" width="1" height="1" fill="#ff0000"/>
<rect x="34" y="553" width="1" height="1" fill="#ff0000"/>
</g>
<text x="133.5" y="896" fill="#f2f2f2" font-weight="bold">2024/11</text>
<text x="322.5" y="896" fill="#f2f2f2" font-weight="bold">2024/12</text>
<text x="511.5" y="896" fill="#f2f2f2" font-weight="bold">2025/01</text>
<text x="709.5" y="896" fill="#f2f2f2" font-weight="bold">2025/02</text>
<text x="889.5" y="896" fill="#f2f2f2" font-weight="bold">2025/03</text>
<text x="1078.5" y="896" fill="#f2f2f2" font-weight="bold">2025/04</text>
<text x="1276.5" y="896" fill="#f2f2f2" font-weight="bold">2025/05</text>
<text x="92" y="14.16" fill="#ffffff" font-size="12" font-family="'Liberation Sans', 'Noto Sans CJK SC', sans-serif">英镑美元</text>
<text x="140" y="14.16" fill="#ff6a00" font-size="12" font-family="'Liberation Sans', 'Noto Sans CJK SC', sans-serif">【日线】</text>
<g stroke="#d05a08" fill="none" stroke-width="1"><circle cx="193.2" cy="11.3" r="4.2"/><path d="M189 11.5H197.4M193.5 7.1V15.5"/></g>
<g font-family="'Liberation Sans', 'Noto Sans CJK SC', sans-serif" font-size="12.4" fill="#c4c4c4">
<text x="3.6" y="17.71">分</text>
<text x="3.6" y="31.71">时</text>
<text x="3.6" y="45.71">图</text>
</g>
<text x="6.6" y="65.6" fill="#fff" font-family="Liberation Serif" textLength="6.6" lengthAdjust="spacingAndGlyphs">K</text>
<g font-family="'Liberation Sans', 'Noto Sans CJK SC', sans-serif" font-size="12.4" fill="#fff">
<text x="3.6" y="81.11">线</text>
<text x="3.6" y="94.71">图</text>
</g>
<g font-family="'Liberation Sans', 'Noto Sans CJK SC', sans-serif" font-size="12.4" fill="#c4c4c4">
<text x="3.6" y="115.91">闪</text>
<text x="3.6" y="129.71">电</text>
<text x="3.6" y="143.51">图</text>
<text x="3.6" y="167.91">合</text>
<text x="3.6" y="182.31">约</text>
<text x="3.6" y="196.31">资</text>
<text x="3.6" y="209.91">料</text>
</g>
<text x="34.5" y="898.56" fill="#ff6a00" font-size="12" font-weight="bold" font-family="'Liberation Sans', 'Noto Sans CJK SC', sans-serif">日线</text>
<path d="M69 890 L73.6 897.8 L64.6 897.8 Z" fill="#ff6a00"/>
<text x="28" y="915.56" fill="#f4f4f4" font-size="12" font-family="'Liberation Sans', 'Noto Sans CJK SC', sans-serif">指标</text>
<text x="68" y="915.56" fill="#f4f4f4" font-size="12" font-family="'Liberation Sans', 'Noto Sans CJK SC', sans-serif">模板</text>
<text x="108" y="915" fill="#fff" font-family="Liberation Mono" letter-spacing="-1.2">VIP</text>
<text x="126" y="915.56" fill="#fff" font-size="12" font-family="'Liberation Sans', 'Noto Sans CJK SC', sans-serif">指标</text>
<g shape-rendering="crispEdges">
<rect x="59" y="904" width="1" height="15" fill="#2c2c2c"/>
<rect x="233" y="904" width="1" height="15" fill="#2c2c2c"/>
<rect x="291" y="904" width="1" height="15" fill="#2c2c2c"/>
<rect x="349" y="904" width="1" height="15" fill="#2c2c2c"/>
<rect x="401" y="904" width="1" height="15" fill="#2c2c2c"/>
<rect x="453" y="904" width="1" height="15" fill="#2c2c2c"/>
<rect x="523" y="904" width="1" height="15" fill="#2c2c2c"/>
<rect x="569" y="904" width="1" height="15" fill="#2c2c2c"/>
<rect x="621" y="904" width="1" height="15" fill="#2c2c2c"/>
<rect x="667" y="904" width="1" height="15" fill="#2c2c2c"/>
<rect x="725" y="904" width="1" height="15" fill="#2c2c2c"/>
<rect x="777" y="904" width="1" height="15" fill="#2c2c2c"/>
<rect x="853" y="904" width="1" height="15" fill="#2c2c2c"/>
<rect x="905" y="904" width="1" height="15" fill="#2c2c2c"/>
<rect x="957" y="904" width="1" height="15" fill="#2c2c2c"/>
<rect x="1009" y="904" width="1" height="15" fill="#2c2c2c"/>
<rect x="1061" y="904" width="1" height="15" fill="#2c2c2c"/>
<rect x="1107" y="904" width="1" height="15" fill="#2c2c2c"/>
<rect x="1135" y="904" width="1" height="15" fill="#2c2c2c"/>
</g>
<text x="165.6" y="915" fill="#bdbdbd" font-family="Liberation Mono" letter-spacing="-1.2">BARUPDN_UD</text>
<text x="241.6" y="915" fill="#bdbdbd" font-family="Liberation Mono" letter-spacing="-1.2">BIAS_UD</text>
<text x="299.6" y="915" fill="#bdbdbd" font-family="Liberation Mono" letter-spacing="-1.2">BOLL_UD</text>
<text x="357.6" y="915" fill="#bdbdbd" font-family="Liberation Mono" letter-spacing="-1.2">CCI_UD</text>
<text x="409.6" y="915" fill="#bdbdbd" font-family="Liberation Mono" letter-spacing="-1.2">DMI_UD</text>
<text x="461.6" y="915" fill="#bdbdbd" font-family="Liberation Mono" letter-spacing="-1.2">INSIDE_UD</text>
<text x="531.6" y="915" fill="#bdbdbd" font-family="Liberation Mono" letter-spacing="-1.2">KD_UD</text>
<text x="577.6" y="915" fill="#bdbdbd" font-family="Liberation Mono" letter-spacing="-1.2">KDJ_UD</text>
<text x="629.6" y="915" fill="#bdbdbd" font-family="Liberation Mono" letter-spacing="-1.2">MA_UD</text>
<text x="675.6" y="915" fill="#bdbdbd" font-family="Liberation Mono" letter-spacing="-1.2">MACD_UD</text>
<text x="733.6" y="915" fill="#bdbdbd" font-family="Liberation Mono" letter-spacing="-1.2">MTM_UD</text>
<text x="785.6" y="915" fill="#bdbdbd" font-family="Liberation Mono" letter-spacing="-1.2">OUTSIDE_UD</text>
<text x="861.6" y="915" fill="#bdbdbd" font-family="Liberation Mono" letter-spacing="-1.2">PSY_UD</text>
<text x="913.6" y="915" fill="#bdbdbd" font-family="Liberation Mono" letter-spacing="-1.2">ROC_UD</text>
<text x="965.6" y="915" fill="#bdbdbd" font-family="Liberation Mono" letter-spacing="-1.2">RSI_UD</text>
<text x="1017.6" y="915" fill="#bdbdbd" font-family="Liberation Mono" letter-spacing="-1.2">SMA_UD</text>
<text x="1069.6" y="915" fill="#bdbdbd" font-family="Liberation Mono" letter-spacing="-1.2">VR_UD</text>
<text x="1115.6" y="915" fill="#bdbdbd" font-family="Liberation Mono" letter-spacing="-1.2">&gt;&gt;</text>
<g shape-rendering="crispEdges">
<rect x="1293" y="0" width="64" height="16" fill="#000"/>
<rect x="1294.5" y="1.5" width="13" height="13" fill="#000" stroke="#b4b4b4"/>
<rect x="1310.5" y="1.5" width="13" height="13" fill="#000" stroke="#b4b4b4"/>
<rect x="1326.5" y="1.5" width="13" height="13" fill="#000" stroke="#b4b4b4"/>
<rect x="1342.5" y="1.5" width="13" height="13" fill="#000" stroke="#b4b4b4"/>
<rect x="1300" y="3" width="2" height="3" fill="#a9a9a9"/>
<rect x="1300" y="10" width="2" height="3" fill="#a9a9a9"/>
<rect x="1296" y="7" width="3" height="2" fill="#a9a9a9"/>
<rect x="1303" y="7" width="3" height="2" fill="#a9a9a9"/>
<rect x="1300" y="7" width="2" height="2" fill="#a9a9a9"/>
<rect x="1313" y="3" width="1" height="10" fill="#a9a9a9"/>
<rect x="1312" y="11" width="10" height="1" fill="#a9a9a9"/>
<rect x="1312" y="4" width="3" height="1" fill="#a9a9a9"/>
<rect x="1312" y="12" width="3" height="1" fill="#6a6a6a"/>
<rect x="1320" y="10" width="1" height="3" fill="#a9a9a9"/>
<rect x="1329" y="3" width="1" height="10" fill="#a9a9a9"/>
<rect x="1328" y="11" width="10" height="1" fill="#a9a9a9"/>
<rect x="1328" y="4" width="3" height="1" fill="#a9a9a9"/>
<rect x="1328" y="12" width="3" height="1" fill="#6a6a6a"/>
<rect x="1336" y="10" width="1" height="3" fill="#a9a9a9"/>
<rect x="1316" y="4" width="1" height="6" fill="#a9a9a9"/>
<rect x="1344.5" y="3.5" width="3" height="9" fill="none" stroke="#a9a9a9"/>
<rect x="1348" y="7" width="4" height="2" fill="#a9a9a9"/>
</g>
<path d="M1320.2 3.8 L1320.2 10 L1317.3 6.9 Z" fill="#a9a9a9"/>
<path d="M1332.4 4 L1337.2 7.2 L1332.4 10.4 Z" fill="#8e8e8e"/>
<path d="M1350.4 4.8 L1353.4 8 L1350.4 11.2 Z" fill="#a9a9a9"/>
<text x="1296.6" y="894" fill="#dde6ee" font-size="31" letter-spacing="2.1">FX678</text>
</svg>
</body></html>
